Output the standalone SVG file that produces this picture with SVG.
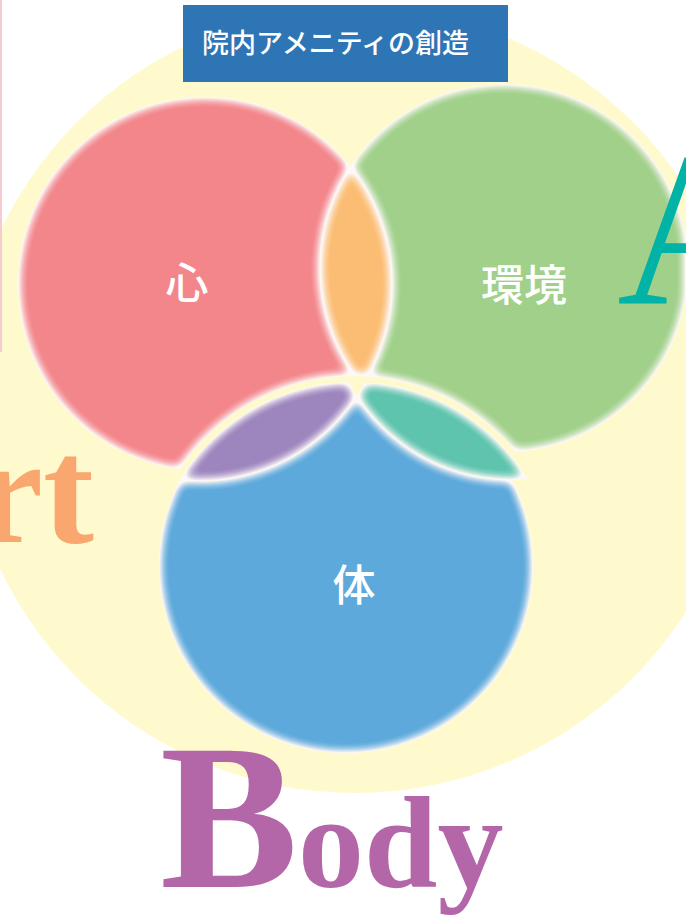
<svg xmlns="http://www.w3.org/2000/svg" width="686" height="916" viewBox="0 0 686 916">
<style>
.lbl{font-family:"Noto Sans CJK JP","Noto Sans",sans-serif;font-weight:500;fill:#ffffff;text-anchor:middle}
.big{font-family:"Liberation Serif","Times New Roman",serif;font-weight:bold}
</style>
<defs>
<filter id="glow" filterUnits="userSpaceOnUse" x="0" y="0" width="686" height="916" color-interpolation-filters="sRGB">
<feGaussianBlur in="SourceAlpha" stdDeviation="6" result="b"/>
<feComponentTransfer in="b" result="m"><feFuncA type="linear" slope="2.2" intercept="-1.12"/></feComponentTransfer>
<feFlood flood-color="#fdf8f8" result="w"/>
<feComposite in="w" in2="SourceAlpha" operator="in" result="wa"/>
<feComposite in="SourceGraphic" in2="m" operator="in" result="c"/>
<feMerge><feMergeNode in="wa"/><feMergeNode in="c"/></feMerge>
</filter>
<clipPath id="cR"><circle cx="205" cy="284" r="187"/></clipPath>
<clipPath id="cCin"><circle cx="354" cy="586" r="204"/></clipPath>
<mask id="mRed" maskUnits="userSpaceOnUse" x="0" y="0" width="686" height="916">
<circle cx="205" cy="284" r="187" fill="#fff"/>
<circle cx="504" cy="268" r="184" fill="#000"/>
<circle cx="354" cy="586" r="210" fill="#000"/>
</mask>
<mask id="mGreen" maskUnits="userSpaceOnUse" x="0" y="0" width="686" height="916">
<circle cx="504" cy="268" r="184" fill="#fff"/>
<circle cx="205" cy="284" r="187" fill="#000"/>
<circle cx="354" cy="586" r="210" fill="#000"/>
</mask>
<mask id="mOrange" maskUnits="userSpaceOnUse" x="0" y="0" width="686" height="916">
<circle cx="504" cy="268" r="184" fill="#fff"/>
<circle cx="354" cy="586" r="210" fill="#000"/>
</mask>
<mask id="mBlue" maskUnits="userSpaceOnUse" x="0" y="0" width="686" height="916">
<circle cx="346" cy="566" r="187" fill="#fff"/>
<circle cx="200" cy="294" r="187" fill="#000"/>
<circle cx="511" cy="296" r="184" fill="#000"/>
</mask>
<mask id="mPurple" maskUnits="userSpaceOnUse" x="0" y="0" width="686" height="916">
<circle cx="200" cy="294" r="187" fill="#fff"/>
<circle cx="511" cy="296" r="184" fill="#000"/>
</mask>
<mask id="mTeal" maskUnits="userSpaceOnUse" x="0" y="0" width="686" height="916">
<circle cx="511" cy="296" r="184" fill="#fff"/>
<circle cx="200" cy="294" r="187" fill="#000"/>
</mask>
</defs>
<rect width="686" height="916" fill="#ffffff"/>
<circle cx="355" cy="400" r="393" fill="#fffacd"/>
<rect x="0" y="0" width="2" height="352" fill="#f7c9d1"/>
<text class="big" x="94" y="542" font-size="153" fill="#f9a76f" text-anchor="end">rt</text>

<g id="node-kokoro">
<g filter="url(#glow)"><rect width="686" height="916" fill="#f2868b" mask="url(#mRed)"/></g>
<text class="lbl" x="187" y="299" font-size="43">心</text>
</g>
<g id="node-kankyo">
<g filter="url(#glow)"><rect width="686" height="916" fill="#a0d08a" mask="url(#mGreen)"/></g>
<text class="lbl" x="524" y="301" font-size="43">環境</text>
</g>
<g id="node-karada">
<g filter="url(#glow)"><rect width="686" height="916" fill="#5da9db" mask="url(#mBlue)"/></g>
<text class="lbl" x="354" y="601" font-size="43">体</text>
</g>
<g id="overlap-kokoro-kankyo">
<g filter="url(#glow)"><g clip-path="url(#cR)"><rect width="686" height="916" fill="#fbbd73" mask="url(#mOrange)"/></g></g>
</g>
<g id="overlap-kokoro-karada">
<g filter="url(#glow)"><g clip-path="url(#cCin)"><rect width="686" height="916" fill="#9d86be" mask="url(#mPurple)"/></g></g>
</g>
<g id="overlap-kankyo-karada">
<g filter="url(#glow)"><g clip-path="url(#cCin)"><rect width="686" height="916" fill="#5ec4ae" mask="url(#mTeal)"/></g></g>
</g>
<g id="connectors"></g>

<text x="617" y="303" font-family="'Liberation Serif','Times New Roman',serif" font-size="220" fill="#00b3a6">A</text>

<g id="title">
<rect x="183" y="5" width="325" height="77" fill="#2e75b6"/>
<text x="202" y="53" font-family="'Noto Sans CJK JP','Noto Sans',sans-serif" font-weight="500" font-size="27" fill="#ffffff">院内アメニティの創造</text>
</g>
<text class="big" x="160" y="887" fill="#b467a8"><tspan font-size="207">B</tspan><tspan font-size="132">ody</tspan></text>
</svg>
